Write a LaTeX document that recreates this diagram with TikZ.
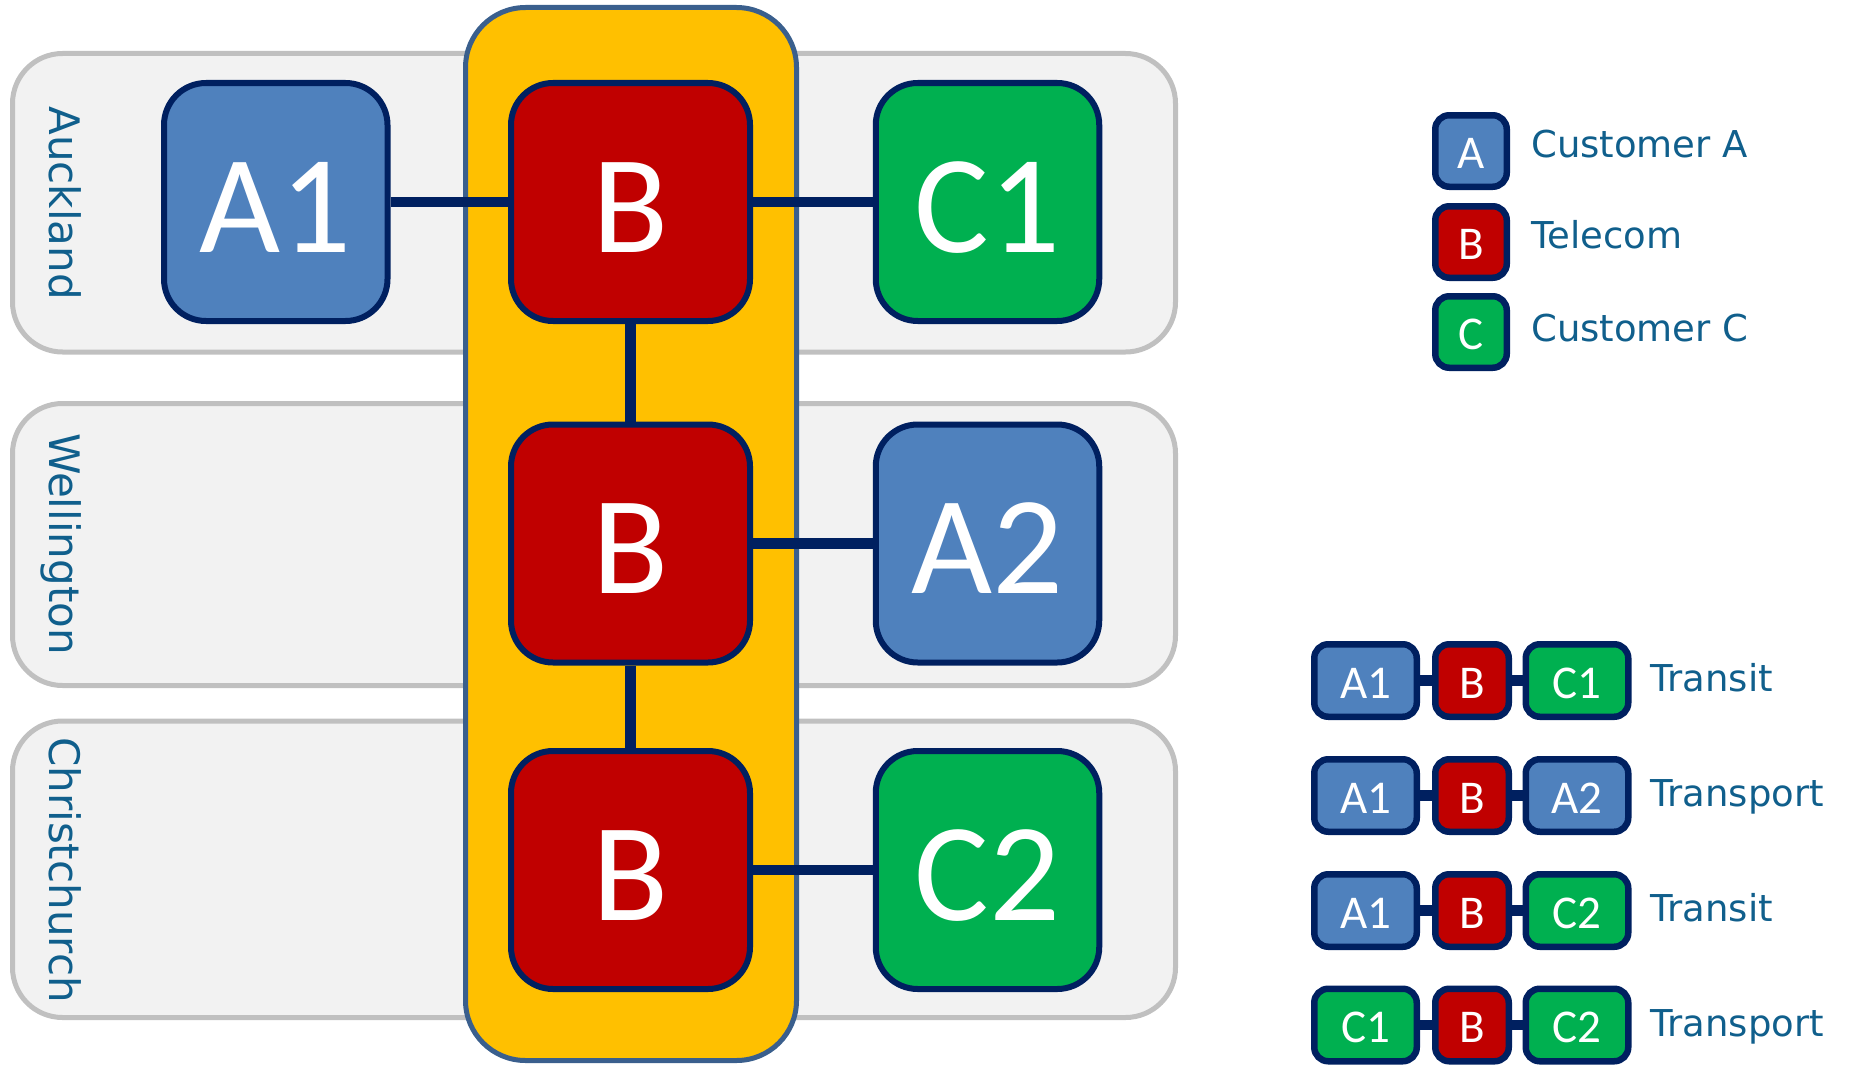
\documentclass[tikz,border=0pt]{standalone}
\usepackage{fontspec}
\newfontfamily\boxfont{Carlito}
\newfontfamily\labfont{DejaVu Sans}
\definecolor{navy}{HTML}{002060}
\definecolor{boxblue}{HTML}{4F81BD}
\definecolor{boxred}{HTML}{C00000}
\definecolor{boxgreen}{HTML}{00B050}
\definecolor{colyellow}{HTML}{FFC000}
\definecolor{colline}{HTML}{3A5F8D}
\definecolor{bandfill}{HTML}{F2F2F2}
\definecolor{bandline}{HTML}{C0C0C0}
\definecolor{labtext}{HTML}{105F8C}
\begin{document}
\begin{tikzpicture}[x=1pt,y=-1pt,
  band/.style={draw=bandline, fill=bandfill, line width=5pt, rounded corners=50pt},
  column/.style={draw=colline, fill=colyellow, line width=5pt, rounded corners=60pt},
  bigbox/.style={draw=navy, line width=6pt, rounded corners=42pt, inner sep=0pt,
    text=white, font=\boxfont\fontsize{140}{140}\selectfont,
    text height=100pt, text depth=0pt, minimum height=238pt, minimum width=223.5pt},
  bigb/.style={bigbox, minimum width=239pt},
  smallbox/.style={draw=navy, line width=6.5pt, rounded corners=14pt, inner sep=0pt,
    text=white, font=\boxfont\fontsize{47}{47}\selectfont,
    text height=35pt, text depth=0pt, minimum height=72.5pt, minimum width=102.5pt},
  smallb/.style={smallbox, minimum width=73.5pt},
  legbox/.style={smallbox, minimum width=71.5pt, minimum height=71.5pt},
  conn/.style={draw=navy, line width=10.5pt},
  sconn/.style={draw=navy, line width=10.5pt},
  city/.style={text=labtext, font=\labfont\fontsize{42}{42}\selectfont, rotate=-90, anchor=mid, inner sep=0pt},
  legtext/.style={text=labtext, font=\labfont\fontsize{37}{37}\selectfont, anchor=base west, inner sep=0pt},
  fA/.style={fill=boxblue}, fB/.style={fill=boxred}, fC/.style={fill=boxgreen}
]
\useasboundingbox (0,0) rectangle (1850,1065);

% city bands
\draw[band] (12.5,53.5) rectangle (1175.5,352);
\draw[band] (12.5,403.5) rectangle (1175.5,685.5);
\draw[band] (12.5,721) rectangle (1175.5,1017.5);

% telecom column
\draw[column] (465.5,7.5) rectangle (796.5,1060.5);

% city labels
\node[city] (lauck) at (52,203) {Auckland};
\node[city] (lwell) at (52,544) {Wellington};
\node[city] (lchch) at (52,870) {Christchurch};

% main nodes
\node[bigbox, fA] (A1) at (275.75,202) {A1};
\node[bigb, fB] (B1) at (630.5,202) {B};
\node[bigbox, fC] (C1) at (987.5,202) {C1};
\node[bigb, fB] (B2) at (630.5,543.5) {B};
\node[bigbox, fA] (A2) at (987.5,543.5) {A2};
\node[bigb, fB] (B3) at (630.5,870) {B};
\node[bigbox, fC] (C2) at (987.5,870) {C2};

\draw[conn] (A1) -- (B1);
\draw[conn] (B1) -- (C1);
\draw[conn] (B1) -- (B2);
\draw[conn] (B2) -- (A2);
\draw[conn] (B2) -- (B3);
\draw[conn] (B3) -- (C2);

% legend
\node[legbox, fA] (LA) at (1471,151) {A};
\node[legbox, fB] (LB) at (1471,242) {B};
\node[legbox, fC] (LC) at (1471,332) {C};
\node[legtext] (tLA) at (1531,157) {Customer A};
\node[legtext] (tLB) at (1531,248) {Telecom};
\node[legtext] (tLC) at (1531,341) {Customer C};

% path examples
\node[smallbox, fA] (r1a) at (1365.5,680.5) {A1};
\node[smallb, fB] (r1b) at (1472,680.5) {B};
\node[smallbox, fC] (r1c) at (1577,680.5) {C1};
\node[legtext] (r1t) at (1650,691) {Transit};

\node[smallbox, fA] (r2a) at (1365.5,795.5) {A1};
\node[smallb, fB] (r2b) at (1472,795.5) {B};
\node[smallbox, fA] (r2c) at (1577,795.5) {A2};
\node[legtext] (r2t) at (1650,806) {Transport};

\node[smallbox, fA] (r3a) at (1365.5,910.5) {A1};
\node[smallb, fB] (r3b) at (1472,910.5) {B};
\node[smallbox, fC] (r3c) at (1577,910.5) {C2};
\node[legtext] (r3t) at (1650,921) {Transit};

\node[smallbox, fC] (r4a) at (1365.5,1025) {C1};
\node[smallb, fB] (r4b) at (1472,1025) {B};
\node[smallbox, fC] (r4c) at (1577,1025) {C2};
\node[legtext] (r4t) at (1650,1036) {Transport};

\foreach \r in {1,2,3,4}{
  \draw[sconn] (r\r a) -- (r\r b);
  \draw[sconn] (r\r b) -- (r\r c);
}
\end{tikzpicture}
\end{document}
